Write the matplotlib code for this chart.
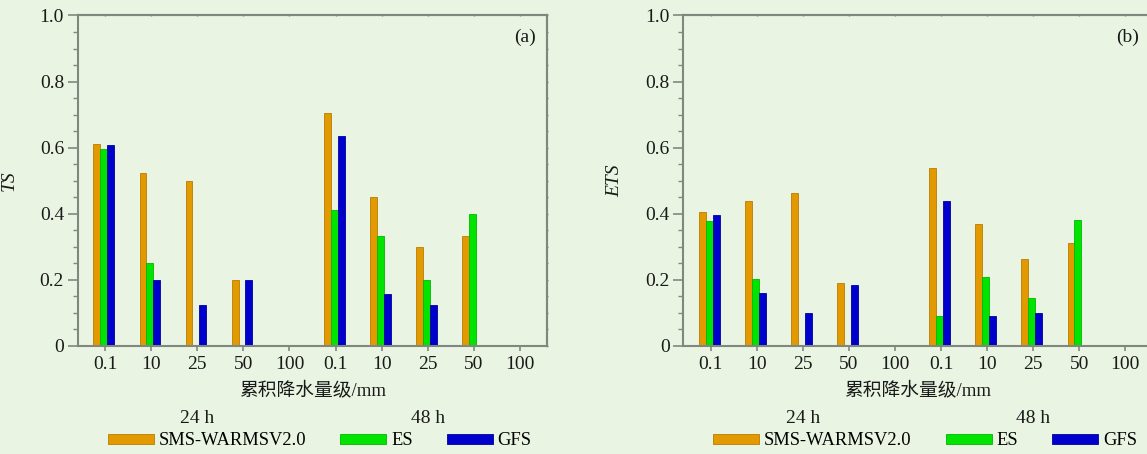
import numpy as np
import matplotlib
matplotlib.use("Agg")
import matplotlib.pyplot as plt
from matplotlib.ticker import MultipleLocator
import matplotlib.transforms as mtransforms

plt.rcParams['font.family'] = ['Liberation Serif', 'Noto Sans CJK SC']

# 数据
量级 = ['0.1', '10', '25', '50', '100', '0.1', '10', '25', '50', '100']
模式 = ['SMS-WARMSV2.0', 'ES', 'GFS']

ts_sms = [0.61, 0.523, 0.50, 0.20, 0.0, 0.705, 0.45, 0.30, 0.333, 0.0]
ts_es = [0.595, 0.25, 0.0, 0.0, 0.0, 0.412, 0.333, 0.20, 0.40, 0.0]
ts_gfs = [0.607, 0.20, 0.125, 0.20, 0.0, 0.635, 0.158, 0.125, 0.0, 0.0]

ets_sms = [0.405, 0.44, 0.463, 0.19, 0.0, 0.539, 0.369, 0.263, 0.313, 0.0]
ets_es = [0.377, 0.203, 0.0, 0.0, 0.0, 0.09, 0.209, 0.146, 0.382, 0.0]
ets_gfs = [0.395, 0.161, 0.10, 0.184, 0.0, 0.438, 0.091, 0.10, 0.0, 0.0]

renk = ['#E39A00', '#00E400', '#0000CD']
kenar = ['#B87C00', '#00B800', '#0000A0']
bg = '#E9F5E2'
gri = '#7F887F'
yazi = '#1a1a1a'

fig = plt.figure(figsize=(11.47, 4.54), dpi=100, facecolor=bg)


def panel(pos, veriler, ylabel, harf, harf_x):
    ax = fig.add_axes(pos)
    ax.set_facecolor(bg)
    x = np.arange(len(量级))
    w = 0.15
    ofs = [-0.18, -0.03, 0.12]
    for i, v in enumerate(veriler):
        ax.bar(x + ofs[i], v, width=w, color=renk[i], edgecolor=kenar[i],
               linewidth=0.6, label=模式[i], zorder=2)
    ax.set_xlim(-0.6, 9.6)
    ax.set_ylim(0, 1.0)
    ax.set_xticks(x)
    ax.set_xticklabels(量级)
    ax.set_yticks([0, 0.2, 0.4, 0.6, 0.8, 1.0])
    ax.set_yticklabels(['0', '0.2', '0.4', '0.6', '0.8', '1.0'])
    ax.yaxis.set_minor_locator(MultipleLocator(0.05))
    for s in ax.spines.values():
        s.set_color(gri)
        s.set_linewidth(1.5)
    ax.tick_params(axis='y', which='major', direction='out', length=7.2,
                   width=1.2, color=gri, labelsize=14, pad=2.5,
                   labelcolor=yazi)
    ax.tick_params(axis='y', which='minor', direction='out', length=3.6,
                   width=1.0, color=gri)
    ax.tick_params(axis='x', which='major', direction='out', length=3.6,
                   width=1.2, color=gri, labelsize=14, pad=3.5,
                   labelcolor=yazi)
    ax.tick_params(axis='x', which='minor', bottom=False, top=False)

    # 上边和右边的小刻度
    sx = ax.secondary_xaxis('top')
    sx.set_xticks(x)
    sx.tick_params(length=2, direction='inout', width=1.0, color=gri,
                   labeltop=False)
    sx.spines['top'].set_color(gri)
    sx.spines['top'].set_linewidth(1.5)
    sy = ax.secondary_yaxis('right')
    sy.set_yticks(np.arange(0, 1.01, 0.05))
    sy.tick_params(length=2, direction='inout', width=1.0, color=gri,
                   labelright=False)
    sy.spines['right'].set_color(gri)
    sy.spines['right'].set_linewidth(1.5)

    ax.set_ylabel(ylabel, fontsize=14, style='italic', color=yazi)
    ax.yaxis.set_label_coords(-0.127, 0.5)
    ax.text(harf_x, 0.935, harf, transform=ax.transAxes, fontsize=14,
            ha='center', va='center', color=yazi)
    ax.text(0.5, -0.135, '累积降水量级/mm', transform=ax.transAxes,
            fontsize=13.5, ha='center', va='center', color=yazi)
    tr = mtransforms.blended_transform_factory(ax.transData, ax.transAxes)
    ax.text(2, -0.22, '24 h', transform=tr, fontsize=14, ha='center',
            va='center', color=yazi)
    ax.text(7, -0.22, '48 h', transform=tr, fontsize=14, ha='center',
            va='center', color=yazi)
    ax.legend(loc='center', bbox_to_anchor=(0.515, -0.287), ncol=3,
              frameon=False, fontsize=13.3, handlelength=2.5,
              handleheight=0.45, handletextpad=0.25, columnspacing=1.85,
              borderaxespad=0, borderpad=0)
    return ax


panel([0.0676, 0.2379, 0.4097, 0.728], [ts_sms, ts_es, ts_gfs], 'TS', '(a)', 0.952)
panel([0.5955, 0.2379, 0.4097, 0.728], [ets_sms, ets_es, ets_gfs], 'ETS', '(b)', 0.947)

fig.savefig('out.png', dpi=100, facecolor=bg)
